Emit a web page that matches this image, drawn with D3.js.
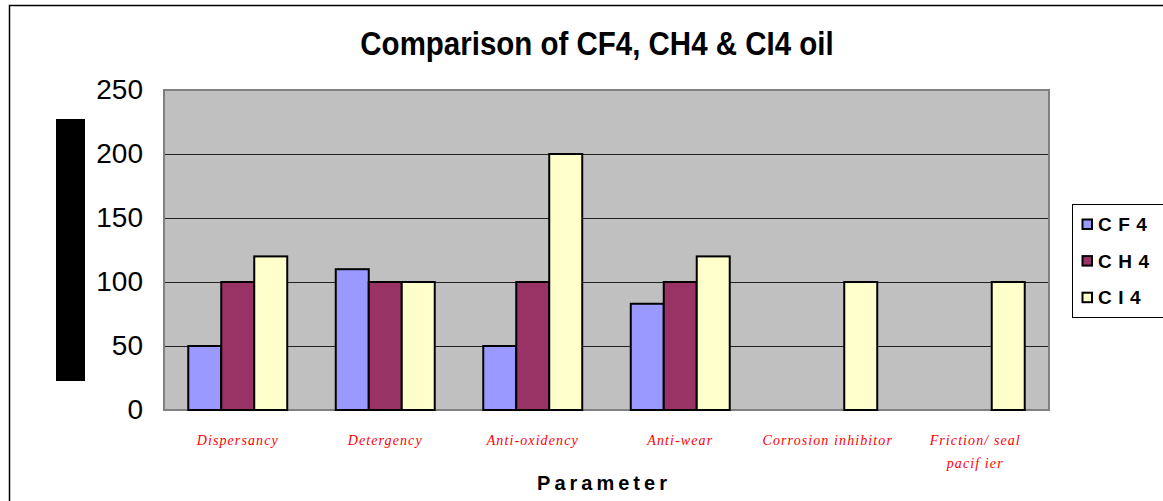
<!DOCTYPE html>
<html>
<head>
<meta charset="utf-8">
<script src="https://cdn.jsdelivr.net/npm/d3@7"></script>
<style>
  body { margin: 0; background: #fff; }
  svg { display: block; }
</style>
</head>
<body>
<script>
// chart data
let categories = ["Dispersancy", "Detergency", "Anti-oxidency", "Anti-wear", "Corrosion inhibitor", "Friction/ seal pacifier"];
let categoryLines = [["Dispersancy"], ["Detergency"], ["Anti-oxidency"], ["Anti-wear"], ["Corrosion inhibitor"], ["Friction/ seal", "pacif ier"]];
let seriesNames = ["CF4", "CH4", "CI4"];
let cf4 = [50, 110, 50, 83, null, null];
let ch4 = [100, 100, 100, 100, null, null];
let ci4 = [120, 100, 200, 120, 100, 100];
let yTicks = [0, 50, 100, 150, 200, 250];

let colors = ["#9999ff", "#993366", "#ffffcc"];

let width = 1163,
    height = 501;

let plot = {left: 164, top: 90, right: 1049, bottom: 410};

let svg = d3.select("body")
    .append("svg")
    .attr("width", width)
    .attr("height", height);

// chart border
svg.append("rect")
    .attr("x", 9.5)
    .attr("y", 5.5)
    .attr("width", width + 10)
    .attr("height", height + 10)
    .attr("fill", "#fff")
    .attr("stroke", "#000")
    .attr("stroke-width", 1.5);

let x0 = d3.scaleBand()
    .domain(categories)
    .range([plot.left, plot.right])
    .paddingInner(0.329)
    .paddingOuter(0.1645);

let x1 = d3.scaleBand()
    .domain(seriesNames)
    .range([0, x0.bandwidth()]);

let y = d3.scaleLinear()
    .domain([0, 250])
    .range([plot.bottom, plot.top]);

// plot area
svg.append("rect")
    .attr("x", plot.left)
    .attr("y", plot.top)
    .attr("width", plot.right - plot.left)
    .attr("height", plot.bottom - plot.top)
    .attr("fill", "#c0c0c0");

// gridlines
svg.append("g")
    .selectAll("line")
    .data(yTicks.filter(function(t) { return t > 0 && t < 250; }))
    .enter()
    .append("line")
    .attr("x1", plot.left)
    .attr("x2", plot.right)
    .attr("y1", function(d) { return Math.round(y(d)) + 0.5; })
    .attr("y2", function(d) { return Math.round(y(d)) + 0.5; })
    .attr("stroke", "#222")
    .attr("stroke-width", 1.2);

svg.append("rect")
    .attr("x", plot.left)
    .attr("y", plot.top)
    .attr("width", plot.right - plot.left)
    .attr("height", plot.bottom - plot.top)
    .attr("fill", "none")
    .attr("stroke", "#808080")
    .attr("stroke-width", 2);

// bars
let seriesData = [cf4, ch4, ci4];
let bars = [];
categories.forEach(function(c, i) {
    seriesNames.forEach(function(s, j) {
        if (seriesData[j][i] != null) {
            bars.push({cat: c, series: s, value: seriesData[j][i], color: colors[j]});
        }
    });
});

svg.append("g")
    .attr("class", "bars")
    .selectAll("rect")
    .data(bars)
    .enter()
    .append("rect")
    .attr("x", function(d) { return x0(d.cat) + x1(d.series); })
    .attr("y", function(d) { return y(d.value); })
    .attr("width", x1.bandwidth())
    .attr("height", function(d) { return y(0) - y(d.value); })
    .attr("fill", function(d) { return d.color; })
    .attr("stroke", "#000")
    .attr("stroke-width", 2);

// y axis
let yAxis = svg.append("g")
    .attr("transform", "translate(" + plot.left + ",0)")
    .call(d3.axisLeft(y).tickValues(yTicks).tickSize(0).tickPadding(21));
yAxis.select(".domain").remove();
yAxis.selectAll("text")
    .attr("font-family", "'Liberation Sans', Arial, sans-serif")
    .attr("font-size", "28px")
    .attr("fill", "#000");

// y axis title box
svg.append("rect")
    .attr("x", 56)
    .attr("y", 119)
    .attr("width", 29)
    .attr("height", 262)
    .attr("fill", "#000");

// x labels
let xl = svg.append("g")
    .selectAll("text")
    .data(categories)
    .enter()
    .append("text")
    .attr("x", function(d) { return x0(d) + x0.bandwidth() / 2; })
    .attr("y", 445)
    .attr("text-anchor", "middle")
    .attr("font-family", "'Liberation Serif', 'Times New Roman', serif")
    .attr("font-style", "italic")
    .attr("font-size", "14px")
    .attr("letter-spacing", "1.1px")
    .attr("fill", "#ff0000");

xl.selectAll("tspan")
    .data(function(d, i) { return categoryLines[i]; })
    .enter()
    .append("tspan")
    .attr("x", function() { return d3.select(this.parentNode).attr("x"); })
    .attr("dy", function(d, i) { return i === 0 ? 0 : 23; })
    .text(function(d) { return d; });

// x axis title
svg.append("text")
    .attr("x", 604)
    .attr("y", 490)
    .attr("text-anchor", "middle")
    .attr("font-family", "'Liberation Sans', Arial, sans-serif")
    .attr("font-weight", "bold")
    .attr("font-size", "20px")
    .attr("letter-spacing", "4px")
    .text("Parameter");

// title
svg.append("g")
    .attr("transform", "translate(597,55) scale(1,1.15)")
    .append("text")
    .attr("text-anchor", "middle")
    .attr("font-family", "'Liberation Sans', Arial, sans-serif")
    .attr("font-weight", "bold")
    .attr("font-size", "29.5px")
    .text("Comparison of CF4, CH4 & CI4 oil");

// legend
let legend = svg.append("g")
    .attr("transform", "translate(1072,204)");

legend.append("rect")
    .attr("x", 0.5)
    .attr("y", 0.5)
    .attr("width", 100)
    .attr("height", 113)
    .attr("fill", "#fff")
    .attr("stroke", "#000");

let item = legend.selectAll(".item")
    .data(seriesNames)
    .enter()
    .append("g")
    .attr("class", "item")
    .attr("transform", function(d, i) { return "translate(0," + (27 + i * 36.6) + ")"; });

item.append("rect")
    .attr("x", 10.5)
    .attr("y", -11.5)
    .attr("width", 9.5)
    .attr("height", 9.5)
    .attr("fill", function(d, i) { return colors[i]; })
    .attr("stroke", "#000")
    .attr("stroke-width", 2);

item.append("text")
    .attr("x", 26)
    .attr("y", 0)
    .attr("font-family", "'Liberation Sans', Arial, sans-serif")
    .attr("font-weight", "bold")
    .attr("font-size", "19px")
    .attr("letter-spacing", "6.5px")
    .text(function(d) { return d; });
</script>
</body>
</html>
